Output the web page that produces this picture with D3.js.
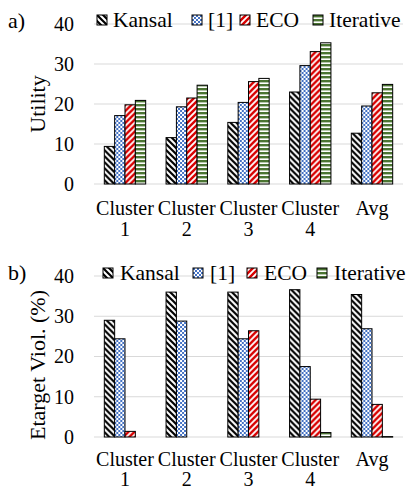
<!DOCTYPE html>
<html>
<head>
<meta charset="utf-8">
<script src="https://cdn.jsdelivr.net/npm/d3@7"></script>
<style>
  body { margin: 0; background: #fff; }
  text { font-family: "Liberation Serif", "Times New Roman", serif; fill: #000; }
</style>
</head>
<body>
<svg width="414" height="491"></svg>
<script>
// categories and series
var categories = ["Cluster 1", "Cluster 2", "Cluster 3", "Cluster 4", "Avg"];
var seriesNames = ["Kansal", "[1]", "ECO", "Iterative"];

// panel a) utility
var utilKansal    = [9.4, 11.6, 15.4, 23.0, 12.7];
var utilRef1      = [17.1, 19.3, 20.4, 29.6, 19.5];
var utilEco       = [19.8, 21.5, 25.6, 33.1, 22.8];
var utilIterative = [20.9, 24.7, 26.4, 35.3, 24.9];

// panel b) Etarget violation (%)
var violKansal    = [29.0, 36.0, 36.0, 36.6, 35.4];
var violRef1      = [24.4, 28.8, 24.4, 17.5, 26.9];
var violEco       = [1.4, 0, 26.4, 9.4, 8.1];
var violIterative = [0, 0, 0, 1.1, 0.1];

var yTicks = [0, 10, 20, 30, 40];

var svg = d3.select("svg");

// fill patterns
var defs = svg.append("defs");

var pk = defs.append("pattern").attr("id", "pat0")
    .attr("patternUnits", "userSpaceOnUse").attr("width", 6).attr("height", 6);
pk.append("rect").attr("width", 6).attr("height", 6).attr("fill", "#fff");
pk.append("path").attr("d", "M-3,3 L3,9 M0,0 L6,6 M3,-3 L9,3")
    .attr("stroke", "#000").attr("stroke-width", 2.2);

var pb = defs.append("pattern").attr("id", "pat1")
    .attr("patternUnits", "userSpaceOnUse").attr("width", 4).attr("height", 4);
pb.append("rect").attr("width", 4).attr("height", 4).attr("fill", "#fff");
pb.append("rect").attr("width", 2).attr("height", 2).attr("fill", "#4472c4");
pb.append("rect").attr("x", 2).attr("y", 2).attr("width", 2).attr("height", 2).attr("fill", "#4472c4");

var pr = defs.append("pattern").attr("id", "pat2")
    .attr("patternUnits", "userSpaceOnUse").attr("width", 6).attr("height", 6);
pr.append("rect").attr("width", 6).attr("height", 6).attr("fill", "#fff");
pr.append("path").attr("d", "M-3,3 L3,-3 M0,6 L6,0 M3,9 L9,3")
    .attr("stroke", "#d80000").attr("stroke-width", 2.4);

var pg = defs.append("pattern").attr("id", "pat3")
    .attr("patternUnits", "userSpaceOnUse").attr("width", 4).attr("height", 4);
pg.append("rect").attr("width", 4).attr("height", 4).attr("fill", "#fff");
pg.append("rect").attr("width", 4).attr("height", 2.4).attr("fill", "#4b7532");

function panel(opts) {
    var x = d3.scaleBand()
        .domain(categories)
        .range([94, 403])
        .paddingInner(0.33)
        .paddingOuter(0.167);

    var xs = d3.scaleBand()
        .domain(seriesNames)
        .range([0, x.bandwidth()]);

    var y = d3.scaleLinear()
        .domain([0, 40])
        .range([opts.bottom, opts.top]);

    var g = svg.append("g");

    // gridlines
    g.selectAll("line.grid")
        .data(yTicks)
        .enter().append("line")
        .attr("x1", 94).attr("x2", 403)
        .attr("y1", function(d) { return y(d); })
        .attr("y2", function(d) { return y(d); })
        .attr("stroke", "#d9d9d9")
        .attr("stroke-width", 1);

    // y axis tick labels
    var yAxis = d3.axisLeft(y).tickValues(yTicks).tickSize(0).tickPadding(0);
    var ya = g.append("g")
        .attr("transform", "translate(74,0)")
        .call(yAxis);
    ya.select(".domain").remove();
    ya.selectAll("text")
        .style("font-family", "'Liberation Serif', 'Times New Roman', serif")
        .style("font-size", "20px")
        .attr("fill", "#000");

    // bars
    var grp = g.selectAll("g.cat")
        .data(categories)
        .enter().append("g")
        .attr("transform", function(d) { return "translate(" + x(d) + ",0)"; });

    grp.selectAll("rect")
        .data(function(d, i) {
            return opts.series.map(function(s, j) {
                return { name: seriesNames[j], value: s[i], j: j };
            });
        })
        .enter().append("rect")
        .filter(function(d) { return d.value > 0; })
        .attr("x", function(d) { return xs(d.name); })
        .attr("width", xs.bandwidth())
        .attr("y", function(d) { return y(d.value); })
        .attr("height", function(d) { return Math.max(0.5, y(0) - y(d.value)); })
        .attr("fill", function(d) { return "url(#pat" + d.j + ")"; })
        .attr("stroke", "#000")
        .attr("stroke-width", 1);

    // category labels on two lines
    var lab = g.selectAll("text.cat")
        .data(categories)
        .enter().append("text")
        .attr("text-anchor", "middle")
        .style("font-size", "20px")
        .attr("x", function(d) { return x(d) + x.bandwidth() / 2; })
        .attr("y", opts.bottom + opts.labOff);
    lab.each(function(d) {
        var parts = d.split(" ");
        var t = d3.select(this);
        parts.forEach(function(p, i) {
            t.append("tspan")
                .attr("x", x(d) + x.bandwidth() / 2)
                .attr("dy", i === 0 ? 0 : opts.labDy)
                .text(p);
        });
    });

    // panel letter
    g.append("text")
        .attr("x", 8).attr("y", opts.top + 4)
        .style("font-size", "22px")
        .text(opts.letter);

    // y title
    g.append("text")
        .attr("transform", "translate(" + 45 + "," + opts.titleY + ") rotate(-90)")
        .attr("text-anchor", "middle")
        .style("font-size", "22px")
        .text(opts.title);

    // legend
    var leg = g.selectAll("g.leg")
        .data(seriesNames)
        .enter().append("g")
        .attr("transform", function(d, i) {
            return "translate(" + opts.legX[i] + "," + opts.legY + ")";
        });
    leg.append("rect")
        .attr("x", 0).attr("y", -12)
        .attr("width", 10).attr("height", 10)
        .attr("fill", function(d, i) { return "url(#pat" + i + ")"; })
        .attr("stroke", "#000")
        .attr("stroke-width", 1);
    leg.append("text")
        .attr("x", opts.legGap)
        .style("font-size", "21.5px")
        .text(function(d) { return d; });
}

panel({
    top: 24, bottom: 184, letter: "a)", title: "Utility", titleY: 104,
    series: [utilKansal, utilRef1, utilEco, utilIterative],
    legX: [97, 192, 240, 313], legY: 27, legGap: 16, labOff: 31, labDy: 21
});

panel({
    top: 276, bottom: 437, letter: "b)", title: "Etarget Viol. (%)", titleY: 365,
    series: [violKansal, violRef1, violEco, violIterative],
    legX: [103, 193, 247, 317], legY: 280, legGap: 17, labOff: 29, labDy: 20
});
</script>
</body>
</html>
